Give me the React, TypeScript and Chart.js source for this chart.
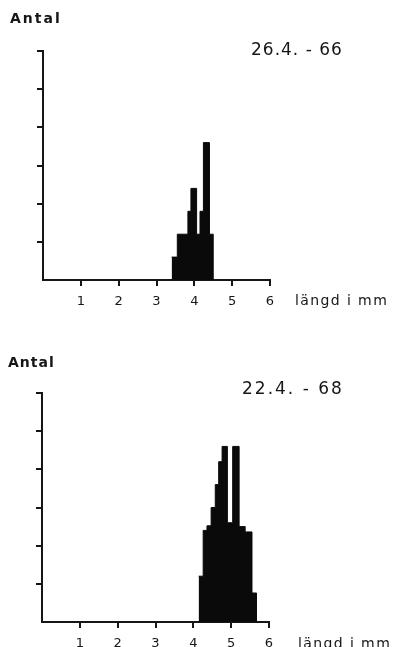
import React, { useEffect, useRef } from 'react';
import { Chart, registerables } from 'chart.js';

Chart.register(...registerables);

// ---- data ----
const X_MIN = 0;
const X_MAX = 6;
const X_STEP = 1;
const Y_MAX = 30;
const Y_STEP = 5;

const Y_TITLE = 'Antal';
const X_TITLE = 'längd i mm';

const DATE_1966 = '26.4. - 66';
const EDGES_1966 = [3.4, 3.55, 3.83, 3.91, 4.06, 4.15, 4.24, 4.4, 4.5];
const COUNTS_1966 = [3, 6, 9, 12, 6, 9, 18, 6];

const DATE_1968 = '22.4. - 68';
const EDGES_1968 = [4.14, 4.26, 4.36, 4.47, 4.58, 4.67, 4.76, 4.9, 5.04, 5.21, 5.37, 5.55, 5.67];
const COUNTS_1968 = [6, 12, 12.6, 15, 18, 21, 23, 13, 23, 12.5, 11.8, 3.8];

const INK = '#161616';
const FONT = '"DejaVu Sans", sans-serif';

type TextItem = { text: string; x: number; y: number; font: string; spacing: string };

type Props = {
  edges: number[];
  counts: number[];
  width: number;
  height: number;
  area: { left: number; right: number; top: number; bottom: number };
  texts: TextItem[];
  style: React.CSSProperties;
};

function Histogram({ edges, counts, width, height, area, texts, style }: Props) {
  const ref = useRef<HTMLCanvasElement | null>(null);

  useEffect(() => {
    if (!ref.current) return;
    const points = counts.map((c, i) => ({ x: edges[i], y: c }));
    points.push({ x: edges[edges.length - 1], y: 0 });

    const textPlugin = {
      id: 'figureText',
      afterDraw(chart: any) {
        const ctx = chart.ctx as CanvasRenderingContext2D;
        texts.forEach((t) => {
          ctx.save();
          ctx.font = t.font;
          (ctx as any).letterSpacing = t.spacing;
          ctx.fillStyle = INK;
          ctx.textAlign = 'left';
          ctx.textBaseline = 'middle';
          ctx.fillText(t.text, t.x, t.y);
          ctx.restore();
        });
      },
    };

    const hideZero = (c: any) => (c.tick && c.tick.value === 0 ? 'rgba(0,0,0,0)' : INK);

    const chart = new Chart(ref.current, {
      type: 'line',
      data: {
        datasets: [
          {
            data: points,
            stepped: true,
            fill: 'origin',
            backgroundColor: '#0a0a0a',
            borderColor: '#0a0a0a',
            borderWidth: 1,
            pointRadius: 0,
          },
        ],
      },
      options: {
        responsive: false,
        animation: false,
        events: [],
        layout: { padding: { left: 0, right: width - area.right, top: area.top, bottom: 0 } },
        plugins: { legend: { display: false }, tooltip: { enabled: false } },
        scales: {
          x: {
            type: 'linear',
            min: X_MIN,
            max: X_MAX,
            afterFit: (s: any) => {
              s.height = height - area.bottom;
            },
            ticks: {
              stepSize: X_STEP,
              autoSkip: false,
              maxRotation: 0,
              padding: 8,
              color: INK,
              font: { family: FONT, size: 13 },
              callback: (v: any) => (v === 0 ? '' : String(v)),
            },
            grid: { drawOnChartArea: false, drawTicks: true, tickLength: 6, lineWidth: 2, color: hideZero },
            border: { display: true, color: INK, width: 2 },
          },
          y: {
            type: 'linear',
            min: 0,
            max: Y_MAX,
            afterFit: (s: any) => {
              s.width = area.left;
            },
            ticks: { stepSize: Y_STEP, display: false },
            grid: { drawOnChartArea: false, drawTicks: true, tickLength: 6, lineWidth: 2, color: hideZero },
            border: { display: true, color: INK, width: 2 },
          },
        },
      },
      plugins: [textPlugin],
    } as any);

    return () => chart.destroy();
  }, []);

  return <canvas ref={ref} width={width} height={height} style={{ display: 'block', ...style }} />;
}

export default function App() {
  return (
    <div style={{ position: 'fixed', left: 0, top: 0, width: 394, height: 647, background: '#fff', overflow: 'hidden' }}>
      <Histogram
        edges={EDGES_1966}
        counts={COUNTS_1966}
        width={394}
        height={320}
        area={{ left: 43, right: 270, top: 51, bottom: 280 }}
        style={{ position: 'absolute', left: 0, top: 0 }}
        texts={[
          { text: Y_TITLE, x: 10, y: 19, font: `bold 14px ${FONT}`, spacing: '2px' },
          { text: DATE_1966, x: 251, y: 51, font: `17px ${FONT}`, spacing: '1px' },
          { text: X_TITLE, x: 295, y: 301, font: `14px ${FONT}`, spacing: '1.4px' },
        ]}
      />
      <Histogram
        edges={EDGES_1968}
        counts={COUNTS_1968}
        width={394}
        height={327}
        area={{ left: 42, right: 269, top: 73, bottom: 302 }}
        style={{ position: 'absolute', left: 0, top: 320 }}
        texts={[
          { text: Y_TITLE, x: 8, y: 43, font: `bold 14px ${FONT}`, spacing: '1px' },
          { text: DATE_1968, x: 242, y: 70, font: `17px ${FONT}`, spacing: '2px' },
          { text: X_TITLE, x: 298, y: 324, font: `14px ${FONT}`, spacing: '1.4px' },
        ]}
      />
    </div>
  );
}
